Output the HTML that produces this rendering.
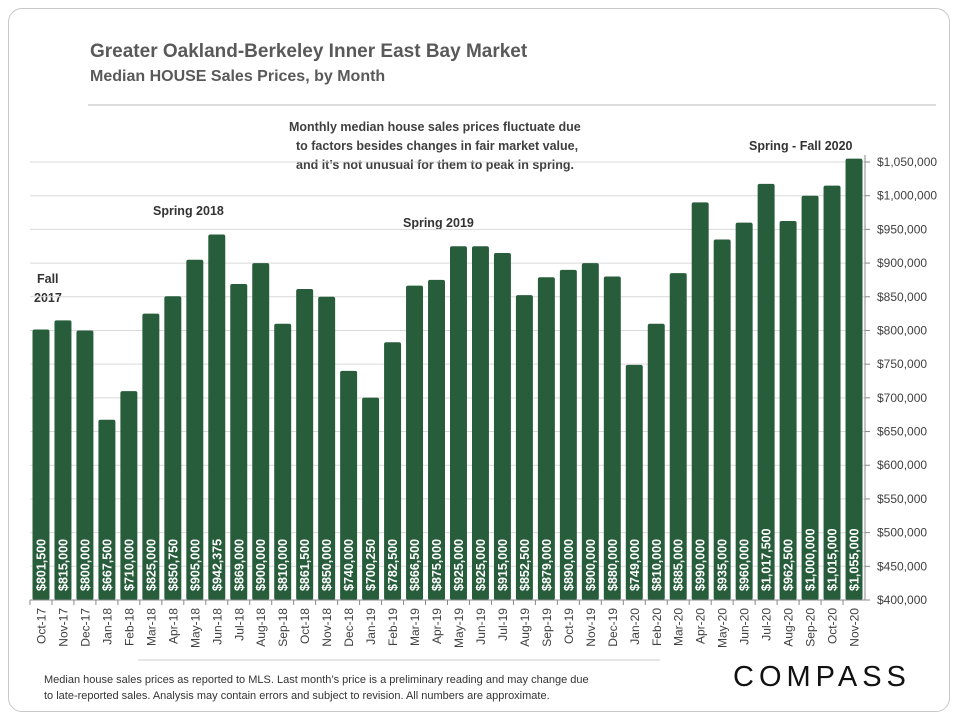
<!DOCTYPE html>
<html><head><meta charset="utf-8"><style>
body{margin:0;background:#fff;font-family:"Liberation Sans",sans-serif;}
#card{position:absolute;left:8px;top:8px;width:940px;height:702px;border:1px solid #c8c8c8;border-radius:14px;background:#fff;}
</style></head><body>
<div id="card"></div>
<svg id="chart" width="960" height="720" style="position:absolute;left:0;top:0">
<text x="90" y="57" font-size="19" font-weight="bold" fill="#595959">Greater Oakland-Berkeley Inner East Bay Market</text>
<text x="90" y="81" font-size="16" font-weight="bold" fill="#595959">Median HOUSE Sales Prices, by Month</text>
<line x1="88" y1="105" x2="936" y2="105" stroke="#bbb" stroke-width="1"/>
<g font-size="12.5" font-weight="bold" fill="#404040">
<text x="289" y="131">Monthly median house sales prices fluctuate due</text>
<text x="296" y="150">to factors besides changes in fair market value,</text>
<text x="296" y="169">and it’s not unusual for them to peak in spring.</text>
</g>
<g font-size="12.5" font-weight="bold" fill="#333">
<text x="749" y="150">Spring - Fall 2020</text>
<text x="153" y="215">Spring 2018</text>
<text x="403" y="227">Spring 2019</text>
<text x="37" y="283">Fall</text>
<text x="34" y="302">2017</text>
</g>
<g id="grid"></g><g id="bars"></g><g id="axes"></g>
<line x1="138" y1="660" x2="660" y2="660" stroke="#ccc"/>
<g font-size="11" fill="#333">
<text x="44" y="683">Median house sales prices as reported to MLS. Last month’s price is a preliminary reading and may change due</text>
<text x="44" y="699">to late-reported sales. Analysis may contain errors and subject to revision. All numbers are approximate.</text>
</g>
<text x="733" y="686" font-size="29" fill="#111" letter-spacing="5">COMPASS</text>
</svg>
<script>
const categories=["Oct-17","Nov-17","Dec-17","Jan-18","Feb-18","Mar-18","Apr-18","May-18","Jun-18","Jul-18","Aug-18","Sep-18","Oct-18","Nov-18","Dec-18","Jan-19","Feb-19","Mar-19","Apr-19","May-19","Jun-19","Jul-19","Aug-19","Sep-19","Oct-19","Nov-19","Dec-19","Jan-20","Feb-20","Mar-20","Apr-20","May-20","Jun-20","Jul-20","Aug-20","Sep-20","Oct-20","Nov-20"];
const values=[801500,815000,800000,667500,710000,825000,850750,905000,942375,869000,900000,810000,861500,850000,740000,700250,782500,866500,875000,925000,925000,915000,852500,879000,890000,900000,880000,749000,810000,885000,990000,935000,960000,1017500,962500,1000000,1015000,1055000];
const yTicks=[400000,450000,500000,550000,600000,650000,700000,750000,800000,850000,900000,950000,1000000,1050000];
const X0=30,X1=865,Y0=600,YMIN=400000,YMAX=1050000,YTOP=162;
const bw=(X1-X0)/categories.length;
const y=v=>Y0-(v-YMIN)/(YMAX-YMIN)*(Y0-YTOP);
const x=i=>X0+i*bw;
const NS="http://www.w3.org/2000/svg";
function mk(t,a,p){const e=document.createElementNS(NS,t);for(const k in a)e.setAttribute(k,a[k]);p.appendChild(e);return e;}
const fmt=v=>"$"+v.toLocaleString("en-US");
const grid=document.getElementById("grid"),bars=document.getElementById("bars"),axes=document.getElementById("axes");
yTicks.forEach(t=>{
 const g=mk("line",{x1:X0,x2:X1,y1:y(t),y2:y(t),stroke:"#d9d9d9","stroke-width":1},grid);
 
 
 const tk=mk("line",{x1:X1,x2:X1+5,y1:y(t),y2:y(t),stroke:"#888"},axes);
 
 
 const l=mk("text",{x:X1+12,y:y(t)+4,"font-size":12,fill:"#404040"},axes);
 l.textContent=fmt(t);
 
 
});
values.forEach((v,i)=>{
 const r=mk("rect",{x:x(i)+2.5,y:y(v),width:bw-5,height:Y0-y(v),fill:"#285d3c",rx:2},bars);
 
 
 const cx=x(i)+bw/2+4.5;
 const t=mk("text",{x:cx,y:591,"font-size":12.5,"font-weight":"bold",fill:"#fff",transform:`rotate(-90 ${cx} 591)`},bars);
 t.textContent=fmt(v);
 
 
 const tk=mk("line",{x1:x(i),x2:x(i),y1:Y0,y2:Y0+5,stroke:"#888"},axes);
 
 
 const lx=x(i)+bw/2+4.5;
 const c=mk("text",{x:lx,y:Y0+8,"font-size":12,fill:"#404040","text-anchor":"end",transform:`rotate(-90 ${lx} ${Y0+8})`},axes);
 c.textContent=categories[i];
 
 
});
const ax=mk("line",{x1:X0,x2:X1,y1:Y0,y2:Y0,stroke:"#888"},axes);


const ay=mk("line",{x1:X1,x2:X1,y1:155,y2:Y0,stroke:"#888"},axes);


</script>
</body></html>
